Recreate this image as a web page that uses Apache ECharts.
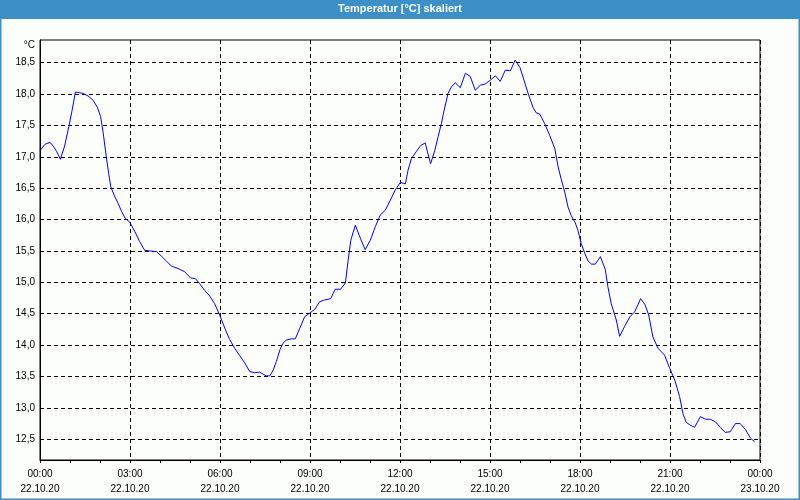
<!DOCTYPE html>
<html>
<head>
<meta charset="utf-8">
<script src="https://cdn.jsdelivr.net/npm/echarts/dist/echarts.min.js"></script>
<style>
html,body{margin:0;padding:0;background:#fcfefc;}
#chart{width:800px;height:500px;}
</style>
</head>
<body>
<div id="chart"></div>
<script>
// Time in hours since 22.10.20 00:00
var hours = [0.00,0.17,0.33,0.44,0.56,0.68,0.82,0.96,1.07,1.18,1.32,1.43,1.60,1.77,1.91,2.02,2.10,2.21,2.29,2.36,2.47,2.60,2.73,2.84,2.99,3.16,3.32,3.49,3.66,3.88,4.04,4.21,4.38,4.60,4.82,5.02,5.18,5.32,5.49,5.66,5.82,5.99,6.16,6.32,6.49,6.66,6.82,6.99,7.16,7.32,7.43,7.54,7.66,7.77,7.88,8.00,8.10,8.21,8.38,8.51,8.66,8.82,8.99,9.16,9.32,9.49,9.69,9.84,10.02,10.18,10.27,10.36,10.51,10.68,10.84,11.01,11.18,11.34,11.51,11.68,11.84,12.01,12.18,12.27,12.38,12.54,12.69,12.84,12.93,13.02,13.16,13.27,13.38,13.47,13.60,13.71,13.84,14.01,14.18,14.34,14.51,14.68,14.84,15.01,15.18,15.34,15.51,15.68,15.84,16.00,16.10,16.27,16.43,16.54,16.66,16.82,16.99,17.16,17.27,17.38,17.49,17.60,17.71,17.84,17.93,18.04,18.16,18.27,18.38,18.51,18.68,18.84,18.93,19.04,19.21,19.32,19.49,19.66,19.82,19.93,20.02,20.16,20.29,20.43,20.60,20.82,20.99,21.16,21.32,21.43,21.54,21.66,21.82,22.01,22.18,22.34,22.51,22.68,22.84,23.01,23.18,23.34,23.51,23.68,23.82];
var temps = [17.10,17.20,17.23,17.17,17.08,16.96,17.17,17.48,17.74,18.03,18.02,18.01,17.97,17.90,17.79,17.64,17.40,17.00,16.73,16.52,16.39,16.26,16.12,16.02,15.96,15.81,15.65,15.51,15.50,15.49,15.42,15.34,15.26,15.22,15.17,15.07,15.06,14.98,14.87,14.78,14.66,14.48,14.27,14.09,13.95,13.83,13.72,13.58,13.56,13.57,13.54,13.51,13.51,13.60,13.74,13.93,14.03,14.08,14.10,14.10,14.27,14.45,14.51,14.57,14.69,14.72,14.74,14.89,14.89,14.99,15.35,15.67,15.91,15.70,15.52,15.67,15.89,16.07,16.15,16.31,16.47,16.59,16.57,16.79,16.97,17.08,17.18,17.22,17.05,16.89,17.10,17.32,17.53,17.74,18.01,18.11,18.18,18.10,18.33,18.28,18.06,18.14,18.16,18.22,18.29,18.20,18.38,18.37,18.54,18.42,18.27,18.01,17.79,17.70,17.68,17.53,17.34,17.13,16.84,16.63,16.44,16.20,16.06,15.95,15.83,15.62,15.46,15.34,15.29,15.29,15.41,15.21,14.93,14.66,14.40,14.14,14.30,14.45,14.53,14.64,14.74,14.65,14.48,14.13,13.95,13.84,13.63,13.44,13.18,12.91,12.77,12.73,12.69,12.86,12.82,12.82,12.78,12.69,12.61,12.62,12.75,12.75,12.66,12.52,12.46];
var yTicks = [12.5,13.0,13.5,14.0,14.5,15.0,15.5,16.0,16.5,17.0,17.5,18.0,18.5];
var xTickTimes = ['00:00','03:00','06:00','09:00','12:00','15:00','18:00','21:00','00:00'];
var xTickDates = ['22.10.20','22.10.20','22.10.20','22.10.20','22.10.20','22.10.20','22.10.20','22.10.20','23.10.20'];
var titleText = 'Temperatur [°C] skaliert';
var unitText = '°C';

var chart = echarts.init(document.getElementById('chart'), null, {renderer:'canvas'});
var dash = {color:'#000', type:[4,3], width:1};
var fontFam = 'Liberation Sans, Arial, sans-serif';
chart.setOption({
  backgroundColor:'#fcfefc',
  animation:false,
  title:{
    text:titleText, left:'center', top:3, padding:0,
    textStyle:{color:'#fff', fontSize:11, fontWeight:'bold', fontFamily:fontFam}
  },
  graphic:[
    {type:'rect', shape:{x:0,y:0,width:800,height:19}, style:{fill:'#3c8fc7'}, z:-1},
    {type:'rect', shape:{x:0.75,y:0.75,width:798.5,height:498.5}, style:{fill:null, stroke:'#3c8fc7', lineWidth:1.5}, z:-1},
    {type:'text', x:35, y:45, style:{text:unitText, align:'right', verticalAlign:'middle', fill:'#000', font:'10px Liberation Sans, Arial, sans-serif'}}
  ],
  grid:{left:40, right:40, top:40, bottom:40, show:true, borderColor:'#000', borderWidth:1, backgroundColor:'transparent'},
  xAxis:{
    type:'value', min:0, max:24, interval:3,
    axisLine:{show:true, lineStyle:{color:'#000', width:1}},
    axisTick:{show:true, length:3, lineStyle:{color:'#000'}},
    minorTick:{show:true, splitNumber:3, length:3, lineStyle:{color:'#000'}},
    splitLine:{show:true, lineStyle:dash},
    axisLabel:{
      margin:7, lineHeight:15, color:'#000', fontSize:10, fontFamily:fontFam,
      formatter:function(v){var i=Math.round(v/3); return xTickTimes[i]+'\n'+xTickDates[i];}
    }
  },
  yAxis:{
    type:'value', min:12.17, max:18.86,
    axisLine:{show:true, lineStyle:{color:'#000'}},
    axisTick:{show:false, customValues:yTicks},
    splitLine:{show:true, lineStyle:dash},
    axisLabel:{
      customValues:yTicks, margin:5, color:'#000', fontSize:10, fontFamily:fontFam,
      formatter:function(v){return v.toFixed(1).replace('.', ',');}
    }
  },
  series:[{
    type:'line',
    data:hours.map(function(h,i){return [h,temps[i]];}),
    showSymbol:false, symbol:'none',
    lineStyle:{color:'#0000ff', width:1},
    itemStyle:{color:'#0000ff'}
  }]
});
</script>
</body>
</html>
